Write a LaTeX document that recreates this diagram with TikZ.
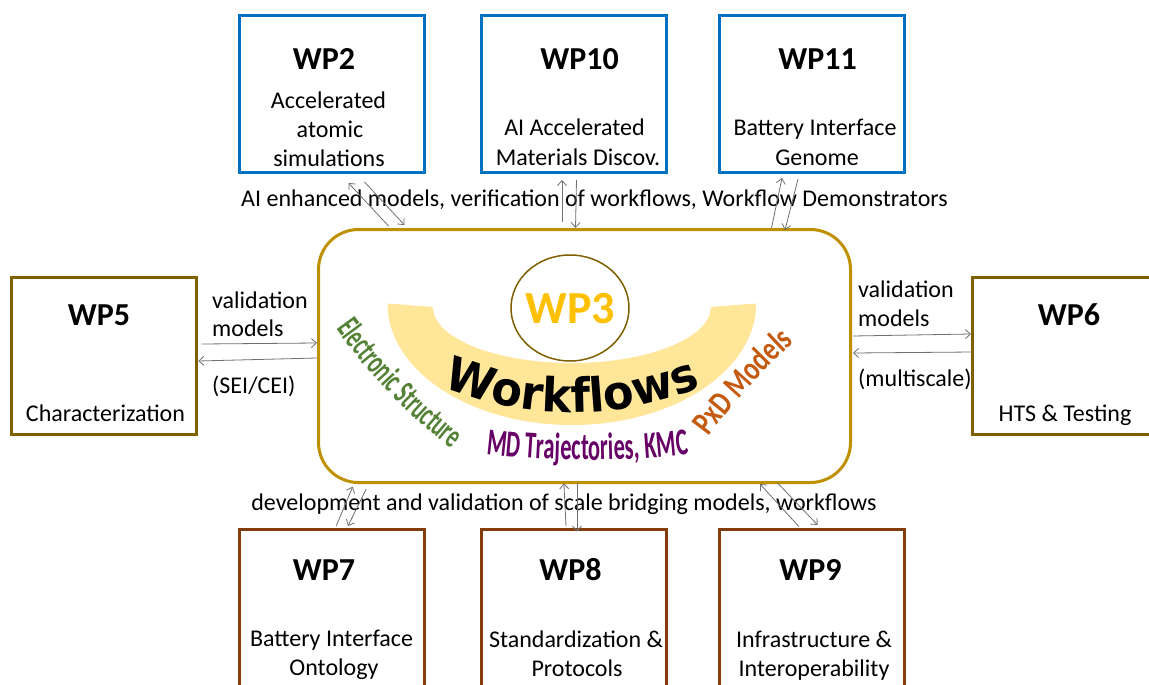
\documentclass[tikz,border=0pt]{standalone}
\usepackage{fontspec}
\setmainfont{Carlito}
\newfontfamily\esfont{Carlito}[FakeStretch=0.6]
\newfontfamily\mdfont{Carlito}[FakeStretch=0.59]
\newfontfamily\pxfont{Carlito}[FakeStretch=0.76]
\newfontfamily\wffont{DejaVu Sans}[FakeStretch=0.95]
\usetikzlibrary{arrows.meta,shapes.geometric,decorations.text}
\definecolor{wpblue}{HTML}{0070C0}
\definecolor{wpolive}{HTML}{7F6000}
\definecolor{wpbrown}{HTML}{843C0C}
\definecolor{wpgold}{HTML}{BF9000}
\definecolor{bandyellow}{HTML}{FFE699}
\definecolor{wpthree}{HTML}{FFC000}
\definecolor{esgreen}{HTML}{538135}
\definecolor{mdpurple}{HTML}{660066}
\definecolor{pxorange}{HTML}{C55A11}
\definecolor{arrowgray}{HTML}{707070}
\begin{document}
\begin{tikzpicture}[x=1pt,y=1pt,
  wpbox/.style={draw, line width=3pt, fill=white, inner sep=0pt},
  topbox/.style={wpbox, draw=wpblue, minimum width=185, minimum height=157},
  botbox/.style={wpbox, draw=wpbrown, minimum width=185, minimum height=157},
  sidebox/.style={wpbox, draw=wpolive, minimum width=186, minimum height=157},
  title/.style={font=\bfseries\fontsize{32}{38}\selectfont, inner sep=0pt, anchor=base},
  body/.style={font=\fontsize{24}{29}\selectfont, inner sep=0pt, anchor=base},
  lab/.style={font=\fontsize{24}{29}\selectfont, inner sep=0pt, anchor=base west},
  arr/.style={draw=arrowgray, line width=0.8pt, -{Straight Barb[length=5pt,width=9pt]}}
]
\useasboundingbox (0,0) rectangle (1149,-685);
\fill[white] (0,0) rectangle (1149,-685);

% central box
\node[draw=wpgold, line width=3pt, rounded corners=40pt, fill=white,
      minimum width=532, minimum height=253, inner sep=0pt] (wf) at (584.5,-356) {};

% yellow band
\fill[bandyellow] (387.5,-303.5) arc[start angle=180, end angle=360, x radius=184.3, y radius=121.5]
  -- (710.8,-307) arc[start angle=0, end angle=-180, x radius=139, y radius=56] -- cycle;

% WP3 circle
\node[ellipse, draw=wpolive, line width=1.5pt, fill=white, minimum width=118, minimum height=106, inner sep=0pt] (wp3c) at (570,-308) {};
\node[font=\bfseries\fontsize{46}{50}\selectfont, text=wpthree, inner sep=0pt, anchor=base] (wp3t) at (570.5,-323) {WP3};

% curved texts
\path[decorate, decoration={text along path, text align=center, text color=black,
  text={|\wffont\bfseries\fontsize{47}{47}\selectfont|Workflows}}]
  ([shift={(240:337.5)}]572,-75) arc[start angle=240, end angle=300, radius=337.5];
\path[decorate, decoration={text along path, text align=center, text color=esgreen,
  text={|\esfont\bfseries\fontsize{34}{34}\selectfont|Electronic Structure}}]
  ([shift={(207.8:580)}]808,8.5) arc[start angle=207.8, end angle=239.8, radius=580];
\path[decorate, decoration={text along path, text align=center, text color=mdpurple,
  text={|\mdfont\bfseries\fontsize{38}{38}\selectfont|MD Trajectories, KMC}}]
  ([shift={(262:870)}]587.5,410) arc[start angle=262, end angle=278, radius=870];
\path[decorate, decoration={text along path, text align=center, text color=pxorange,
  text={|\pxfont\bfseries\fontsize{34}{34}\selectfont|PxD Models}}]
  ([shift={(151.7:645)}]1226,-821.7) arc[start angle=151.7, end angle=123.7, radius=645];

% boxes
\node[topbox] (wp2) at (331.5,-94) {};
\node[topbox] (wp10) at (573.5,-94) {};
\node[topbox] (wp11) at (812,-94) {};
\node[sidebox, minimum width=185.5] (wp5) at (104,-356) {};
\node[sidebox] (wp6) at (1065.5,-356) {};
\node[botbox] (wp7) at (332,-608) {};
\node[botbox] (wp8) at (573.5,-608) {};
\node[botbox] (wp9) at (812,-608) {};

% box texts
\node[title] (t2) at (324,-70) {WP2};
\node[body] (b2a) at (328.5,-108) {Accelerated};
\node[body] (b2b) at (330,-137) {atomic};
\node[body] (b2c) at (329,-166) {simulations};
\node[title] (t10) at (579.5,-70) {WP10};
\node[body] (b10a) at (574.5,-135) {AI Accelerated};
\node[body] (b10b) at (578,-165) {Materials Discov.};
\node[title] (t11) at (817.5,-70) {WP11};
\node[body] (b11a) at (815,-135) {Battery Interface};
\node[body] (b11b) at (817,-165) {Genome};

\node[title] (t5) at (99,-325) {WP5};
\node[body] (b5) at (105.5,-421) {Characterization};
\node[title] (t6) at (1069,-325) {WP6};
\node[body] (b6) at (1065,-421) {HTS \& Testing};

\node[title] (t7) at (324,-580) {WP7};
\node[body] (b7a) at (331.5,-646) {Battery Interface};
\node[body] (b7b) at (334,-675) {Ontology};
\node[title] (t8) at (570.5,-580) {WP8};
\node[body] (b8a) at (576,-647) {Standardization \&};
\node[body] (b8b) at (577,-676) {Protocols};
\node[title] (t9) at (810.5,-580) {WP9};
\node[body] (b9a) at (814,-647) {Infrastructure \&};
\node[body] (b9b) at (814,-676) {Interoperability};

% connector labels
\node[body] (toplab) at (594.5,-206) {AI enhanced models, verification of workflows, Workflow Demonstrators};
\node[body] (botlab) at (564,-510) {development and validation of scale bridging models, workflows};
\node[lab] (lv5a) at (212,-308) {validation};
\node[lab] (lv5b) at (212,-336.5) {models};
\node[lab] (ls5) at (212,-393) {(SEI/CEI)};
\node[lab] (lv6a) at (858,-297) {validation};
\node[lab] (lv6b) at (858,-326.5) {models};
\node[lab] (lm6) at (858,-386) {(multiscale)};

% connectors top
\draw[arr] ([shift={(-196,2)}]wf.north) -- ([shift={(17,-9)}]wp2.south);
\draw[arr] ([shift={(33,-8)}]wp2.south) -- ([shift={(-180,3)}]wf.north);
\draw[arr] ([shift={(-22.5,6)}]wf.north) -- ([shift={(-11.5,-6)}]wp10.south);
\draw[arr] ([shift={(3,-6)}]wp10.south) -- ([shift={(-9,0)}]wf.north);
\draw[arr] ([shift={(187,0)}]wf.north) -- ([shift={(-30,-4)}]wp11.south);
\draw[arr] ([shift={(-14,-5)}]wp11.south) -- ([shift={(200.5,-2)}]wf.north);
% connectors bottom
\draw[arr] ([shift={(4.2,2)}]wp7.north) -- ([shift={(-231.8,-2.7)}]wf.south);
\draw[arr] ([shift={(-218.3,-5)}]wf.south) -- ([shift={(16,2)}]wp7.north);
\draw[arr] ([shift={(-7.5,2)}]wp8.north) -- ([shift={(-20.6,0.7)}]wf.south);
\draw[arr] ([shift={(-7.5,0.7)}]wf.south) -- ([shift={(3.5,-3.7)}]wp8.north);
\draw[arr] ([shift={(-13,1.3)}]wp9.north) -- ([shift={(175.5,0)}]wf.south);
\draw[arr] ([shift={(192.8,1.3)}]wf.south) -- ([shift={(5.6,3)}]wp9.north);
% connectors sides
\draw[arr] ([shift={(3.75,12)}]wp5.east) -- ([shift={(0,13)}]wf.west);
\draw[arr] ([shift={(0,-2)}]wf.west) -- ([shift={(0,-5)}]wp5.east);
\draw[arr] ([shift={(1,20)}]wf.east) -- ([shift={(0,22)}]wp6.west);
\draw[arr] ([shift={(2,4)}]wp6.west) -- ([shift={(1,3)}]wf.east);
\end{tikzpicture}
\end{document}
